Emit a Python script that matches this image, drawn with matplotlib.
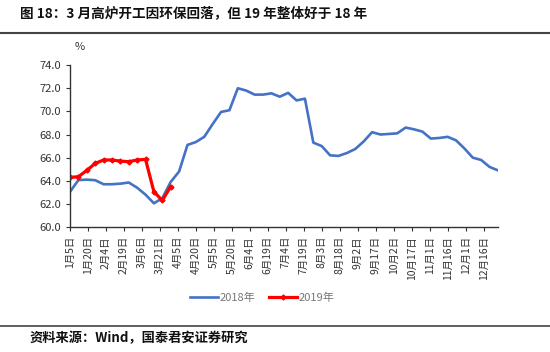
import matplotlib
matplotlib.use('Agg')
import matplotlib.pyplot as plt
import pandas as pd
from matplotlib.lines import Line2D

plt.rcParams['font.family'] = ['Noto Sans CJK SC', 'DejaVu Sans']

# weekly blast furnace utilisation, %
dates = pd.date_range('2018-01-05', periods=52, freq='7D')
util_2018 = [63.05, 64.06, 64.1, 64.05, 63.7, 63.7, 63.75, 63.85, 63.4, 62.8,
             62.05, 62.5, 63.9, 64.8, 67.1, 67.35, 67.8, 68.9, 69.95, 70.1,
             72.0, 71.8, 71.45, 71.45, 71.56, 71.27, 71.6, 70.95, 71.1, 67.3,
             67.0, 66.2, 66.15, 66.4, 66.75, 67.4, 68.2, 68.0, 68.05, 68.1,
             68.6, 68.45, 68.25, 67.65, 67.7, 67.8, 67.5, 66.8, 66.0, 65.8,
             65.2, 64.9]
util_2019 = [64.3, 64.35, 64.9, 65.5, 65.8, 65.8, 65.7, 65.65, 65.8, 65.85,
             63.05, 62.3, 63.5]

tick_dates = pd.date_range('2018-01-05', periods=24, freq='15D')
tick_labels = ['1月5日', '1月20日', '2月4日', '2月19日', '3月6日', '3月21日',
               '4月5日', '4月20日', '5月5日', '5月20日', '6月4日', '6月19日',
               '7月4日', '7月19日', '8月3日', '8月18日', '9月2日', '9月17日',
               '10月2日', '10月17日', '11月1日', '11月16日', '12月1日', '12月16日']
yticks = [60, 62, 64, 66, 68, 70, 72, 74]

fig = plt.figure(figsize=(5.5, 3.52), dpi=100)
ax = fig.add_axes([0.1273, 0.355, 0.778, 0.460])

ax.plot(dates, util_2018, color='#4472C4', lw=1.9, solid_joinstyle='round',
        solid_capstyle='round', label='2018年')
ax.plot(dates[:len(util_2019)], util_2019, color='#FF0000', lw=2.3,
        marker='D', ms=2.5, solid_joinstyle='round', label='2019年')

ax.set_xlim(dates[0], pd.Timestamp('2018-12-28'))
ax.set_ylim(60, 74)
ax.set_yticks(yticks)
ax.set_yticklabels(['%.1f' % v for v in yticks])
ax.set_xticks(tick_dates)
ax.set_xticklabels(tick_labels, rotation=90, ha='center', va='top')
ax.tick_params(axis='both', labelsize=7.5, colors='#333333', direction='out', length=3, width=0.8)
ax.tick_params(axis='y', labelsize=8)
for side in ['top', 'right']:
    ax.spines[side].set_visible(False)
for side in ['left', 'bottom']:
    ax.spines[side].set_color('#333333')
    ax.spines[side].set_linewidth(1.0)

fig.text(75 / 550, 1 - 47 / 352, '%', fontsize=8, color='#333333', va='center')

handles = [Line2D([], [], color='#4472C4', lw=1.9),
           Line2D([], [], color='#FF0000', lw=2.3, marker='D', ms=2.5)]
fig.legend(handles, ['2018年', '2019年'], loc='center', bbox_to_anchor=(262 / 550, 1 - 298 / 352),
           ncol=2, frameon=False, fontsize=8, labelcolor='#777777', handlelength=2.6,
           handletextpad=0.1, columnspacing=1.2)

fig.text(20 / 550, 1 - 14 / 352, '图 18：3 月高炉开工因环保回落，但 19 年整体好于 18 年',
         fontsize=9.8, fontweight='bold', va='center', color='#111111')
fig.add_artist(Line2D([0, 1], [1 - 33 / 352] * 2, color='#444444', lw=1.5))
fig.add_artist(Line2D([0, 1], [1 - 326 / 352] * 2, color='#444444', lw=1.2))
fig.text(30 / 550, 1 - 338 / 352, '资料来源：Wind，国泰君安证券研究',
         fontsize=9.5, fontweight='bold', va='center', color='#111111')

fig.savefig('out.png', dpi=100)
